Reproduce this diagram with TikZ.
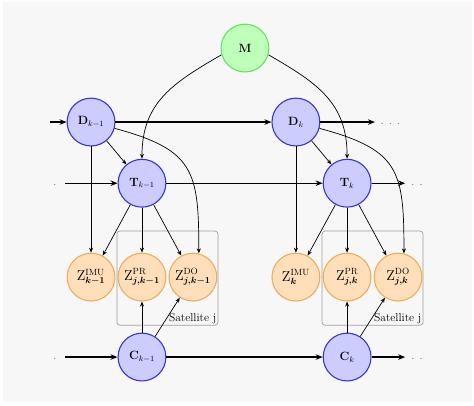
\documentclass[tikz,border=0pt]{standalone}
\usepackage{amsmath}
\usetikzlibrary{arrows.meta}

\definecolor{stateblue}{RGB}{204,204,255}
\definecolor{stateline}{RGB}{55,55,205}
\definecolor{mapgreen}{RGB}{190,255,185}
\definecolor{mapline}{RGB}{100,225,95}
\definecolor{measorange}{RGB}{255,222,186}
\definecolor{measline}{RGB}{240,172,92}
\definecolor{bggray}{RGB}{247,247,247}

\begin{document}
\begin{tikzpicture}[
    font=\fontsize{11.5}{14}\selectfont,
    state/.style={circle, draw=stateline, fill=stateblue, line width=1.1pt,
      minimum size=1.68cm, inner sep=0pt},
    mapnode/.style={state, draw=mapline, fill=mapgreen},
    meas/.style={state, draw=measline, fill=measorange,
      font=\fontsize{13.5}{16}\selectfont},
    flow/.style={-{Stealth[length=7pt,width=5.5pt]}, line width=1.4pt},
    dep/.style={-{Stealth[length=5pt,width=4pt]}, line width=0.7pt},
    satbox/.style={draw=gray!75, line width=0.7pt, rounded corners=3pt},
    dotlabel/.style={text=black!70, inner sep=0pt}
  ]
    \useasboundingbox (0,0) rectangle (16.66,14.24);
    \fill[bggray] (0.1,0.1) rectangle (16.59,14.17);

    % satellite plates
    \draw[satbox] (4.11,2.81) rectangle (7.66,6.12);
    \draw[satbox] (11.32,2.81) rectangle (14.87,6.12);
    \node[anchor=south east, inner sep=1.5pt] (sat1) at (7.66,2.81) {Satellite j};
    \node[anchor=south east, inner sep=1.5pt] (sat2) at (14.87,2.81) {Satellite j};

    % states
    \node[mapnode] (m) at (8.61,12.55) {$\mathbf{M}$};
    \node[state] (d1) at (3.20,9.95) {$\mathbf{D}_{k-1}$};
    \node[state] (d2) at (10.40,9.95) {$\mathbf{D}_{k}$};
    \node[state] (t1) at (4.99,7.80) {$\mathbf{T}_{k-1}$};
    \node[state] (t2) at (12.20,7.80) {$\mathbf{T}_{k}$};
    \node[state] (c1) at (4.99,1.69) {$\mathbf{C}_{k-1}$};
    \node[state] (c2) at (12.20,1.69) {$\mathbf{C}_{k}$};

    % measurements
    \node[meas] (zimu1) at (3.20,4.50) {$\mathrm{Z}^{\mathrm{IMU}}_{\boldsymbol{k-1}}$};
    \node[meas] (zpr1) at (4.99,4.50) {$\mathrm{Z}^{\mathrm{PR}}_{\boldsymbol{j,k-1}}$};
    \node[meas] (zdo1) at (6.78,4.50) {$\mathrm{Z}^{\mathrm{DO}}_{\boldsymbol{j,k-1}}$};
    \node[meas] (zimu2) at (10.40,4.50) {$\mathrm{Z}^{\mathrm{IMU}}_{\boldsymbol{k}}$};
    \node[meas] (zpr2) at (12.20,4.50) {$\mathrm{Z}^{\mathrm{PR}}_{\boldsymbol{j,k}}$};
    \node[meas] (zdo2) at (13.99,4.50) {$\mathrm{Z}^{\mathrm{DO}}_{\boldsymbol{j,k}}$};

    % open ends of the chains
    \coordinate (din) at (1.76,9.95);
    \coordinate (dout) at (13.18,9.95);
    \coordinate (tin) at (2.28,7.80);
    \coordinate (tout) at (14.24,7.80);
    \coordinate (cin) at (2.28,1.69);
    \coordinate (cout) at (14.24,1.69);
    \node[dotlabel] (ddots) at (13.72,9.89) {. . .};
    \node[dotlabel] (tdotl) at (1.93,7.74) {.};
    \node[dotlabel] (tdotr) at (14.66,7.74) {. .};
    \node[dotlabel] (cdotl) at (1.93,1.63) {.};
    \node[dotlabel] (cdotr) at (14.66,1.63) {. .};

    % time chains
    \draw[flow] (din) -- (d1);
    \draw[flow] (d1) -- (d2);
    \draw[flow] (d2) -- (dout);
    \draw[flow] (tin) -- (t1);
    \draw[flow] (t1) -- (t2);
    \draw[flow] (t2) -- (tout);
    \draw[flow] (cin) -- (c1);
    \draw[flow] (c1) -- (c2);
    \draw[flow] (c2) -- (cout);

    % map
    \draw[dep] (m.196) to[out=210, in=90, looseness=1.1] (t1.north);
    \draw[dep] (m.-16) to[out=-30, in=90, looseness=1.1] (t2.north);

    % epoch k-1
    \draw[dep] (d1) -- (t1);
    \draw[dep] (d1) -- (zimu1);
    \draw[dep] (d1.-15) to[out=-15, in=90, looseness=1.4] (zdo1.76);
    \draw[dep] (t1) -- (zimu1);
    \draw[dep] (t1) -- (zpr1);
    \draw[dep] (t1) -- (zdo1);
    \draw[dep] (c1) -- (zpr1);
    \draw[dep] (c1) -- (zdo1);

    % epoch k
    \draw[dep] (d2) -- (t2);
    \draw[dep] (d2) -- (zimu2);
    \draw[dep] (d2.-15) to[out=-15, in=90, looseness=1.4] (zdo2.76);
    \draw[dep] (t2) -- (zimu2);
    \draw[dep] (t2) -- (zpr2);
    \draw[dep] (t2) -- (zdo2);
    \draw[dep] (c2) -- (zpr2);
    \draw[dep] (c2) -- (zdo2);
  \end{tikzpicture}
\end{document}
